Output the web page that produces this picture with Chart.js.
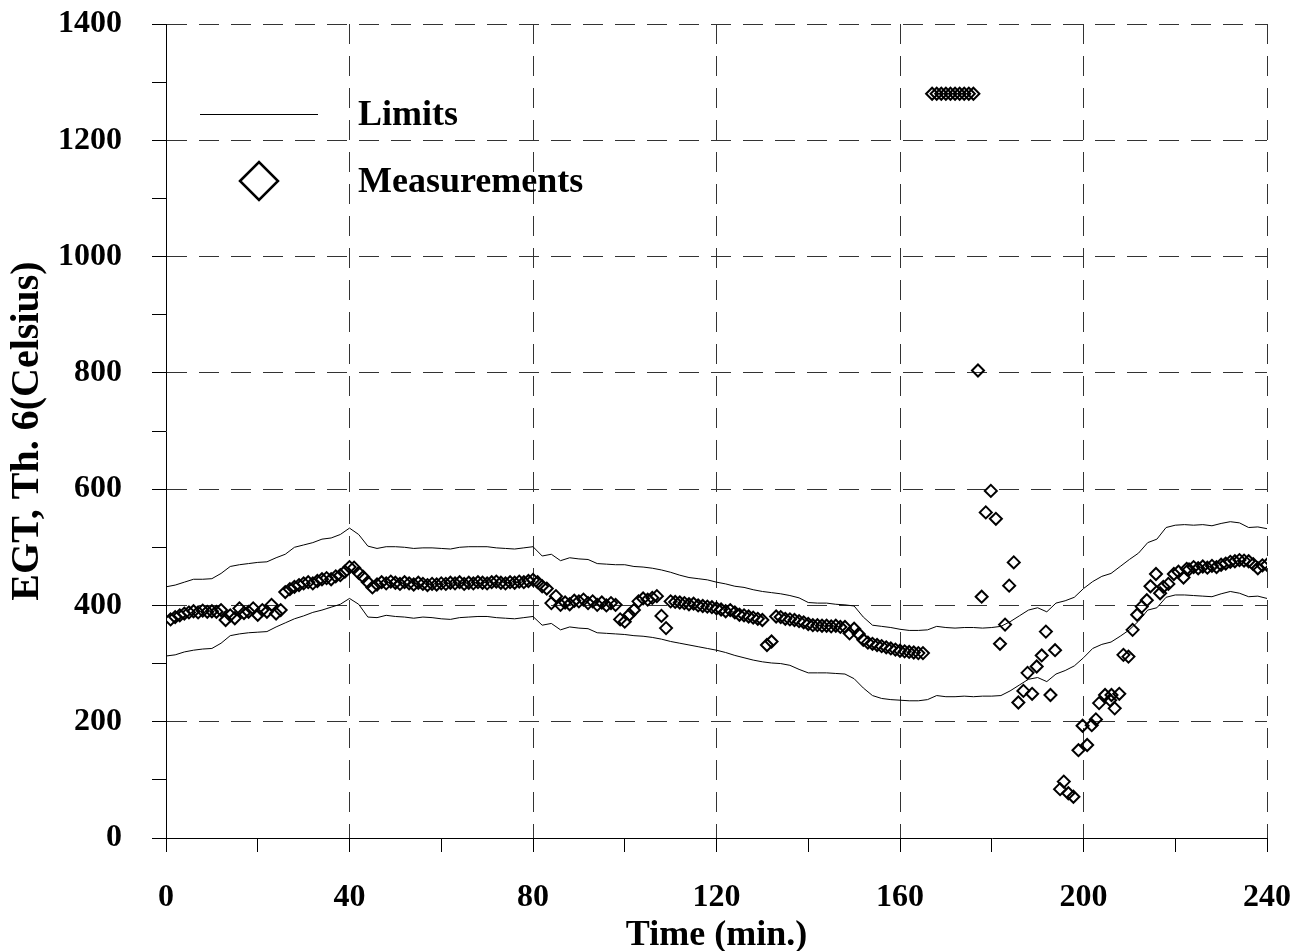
<!DOCTYPE html>
<html>
<head>
<meta charset="utf-8">
<title>EGT Th. 6</title>
<script src="https://cdn.jsdelivr.net/npm/chart.js@4.4.1/dist/chart.umd.min.js"></script>
<style>
  html, body { margin: 0; padding: 0; background: #fff; }
  canvas { display: block; }
</style>
</head>
<body>
<canvas id="egtChart" width="1303" height="951" style="width:1303px;height:951px"></canvas>
<script>
// 上下限 (每 2 分鐘一點)
const limitTime = [
  0, 2, 4, 6, 8, 10, 12, 14, 16, 18,
  20, 22, 24, 26, 28, 30, 32, 34, 36, 38,
  40, 42, 44, 46, 48, 50, 52, 54, 56, 58,
  60, 62, 64, 66, 68, 70, 72, 74, 76, 78,
  80, 82, 84, 86, 88, 90, 92, 94, 96, 98,
  100, 102, 104, 106, 108, 110, 112, 114, 116, 118,
  120, 122, 124, 126, 128, 130, 132, 134, 136, 138,
  140, 142, 144, 146, 148, 150, 152, 154, 156, 158,
  160, 162, 164, 166, 168, 170, 172, 174, 176, 178,
  180, 182, 184, 186, 188, 190, 192, 194, 196, 198,
  200, 202, 204, 206, 208, 210, 212, 214, 216, 218,
  220, 222, 224, 226, 228, 230, 232, 234, 236, 238,
  240
];
const upperLimit = [
  432, 435, 440, 445, 445, 446, 455, 467, 470, 472,
  474, 475, 482, 488, 500, 504, 508, 514, 516, 522,
  533, 522, 502, 498, 501, 501, 500, 498, 499, 499,
  498, 497, 500, 501, 501, 501, 499, 498, 497, 499,
  501, 485, 488, 477, 482, 480, 479, 472, 471, 470,
  470, 467, 466, 464, 461, 457, 452, 448, 446, 444,
  440, 437, 433, 431, 427, 424, 422, 420, 417, 413,
  405, 404, 404, 402, 401, 399, 380, 366, 364, 362,
  359, 357, 357, 358, 364, 362, 361, 362, 362, 361,
  362, 364, 372, 382, 392, 396, 389, 404, 408, 414,
  429, 441, 450, 455, 467, 479, 490, 508, 514, 534,
  538, 539, 538, 539, 537, 541, 544, 542, 534, 535,
  532
];
const lowerLimit = [
  313, 315, 320, 323, 325, 326, 335, 348, 351, 353,
  354, 355, 363, 370, 377, 382, 388, 392, 397, 402,
  412, 402, 380, 379, 383, 381, 380, 378, 380, 379,
  377, 376, 379, 380, 381, 381, 379, 378, 377, 379,
  381, 366, 369, 358, 363, 361, 360, 353, 352, 351,
  350, 348, 347, 345, 342, 338, 335, 332, 329, 326,
  323, 319, 314, 310, 306, 303, 301, 300, 297, 290,
  284, 284, 284, 283, 282, 274, 258, 245, 240, 238,
  237, 236, 236, 238, 245, 243, 243, 244, 243, 244,
  244, 245, 253, 263, 273, 276, 269, 282, 288, 296,
  310, 326, 333, 337, 347, 358, 373, 392, 396, 414,
  418, 418, 417, 416, 415, 420, 424, 421, 415, 416,
  412
];

// 量測值
const measTime = [
  1, 2, 3, 4, 5, 6, 7, 8, 9, 10,
  11, 12, 13, 14, 15, 16, 17, 18, 19, 20,
  21, 22, 23, 24, 25, 26, 27, 28, 29, 30,
  31, 32, 33, 34, 35, 36, 37, 38, 39, 40,
  41, 42, 43, 44, 45, 46, 47, 48, 49, 50,
  51, 52, 53, 54, 55, 56, 57, 58, 59, 60,
  61, 62, 63, 64, 65, 66, 67, 68, 69, 70,
  71, 72, 73, 74, 75, 76, 77, 78, 79, 80,
  81, 82, 83, 84, 85, 86, 87, 88, 89, 90,
  91, 92, 93, 94, 95, 96, 97, 98, 99, 100,
  101, 102, 103, 104, 105, 106, 107, 108, 109, 110,
  111, 112, 113, 114, 115, 116, 117, 118, 119, 120,
  121, 122, 123, 124, 125, 126, 127, 128, 129, 130,
  131, 132, 133, 134, 135, 136, 137, 138, 139, 140,
  141, 142, 143, 144, 145, 146, 147, 148, 149, 150,
  151, 152, 153, 154, 155, 156, 157, 158, 159, 160,
  161, 162, 163, 164, 165,
  167, 168, 169, 170, 171, 172, 173, 174, 175, 176,
  177, 177.8, 178.7, 179.8, 180.9, 181.8, 182.9, 183.8, 184.8, 185.8,
  186.9, 187.8, 188.8, 189.8, 190.9, 191.8, 192.8, 193.8, 194.9, 195.7,
  196.7, 197.8, 198.9, 199.8, 200.8, 201.8, 202.7, 203.4, 204.7, 205.8,
  206.1, 206.8, 207.8, 208.7, 209.8, 210.7, 211.7, 212.7, 213.8, 214.6,
  215.8, 216.7, 217.4, 218.5, 219.7, 220.7, 221.8, 222.5,
  223, 224, 225, 226, 227, 228, 229, 230, 231, 232,
  233, 234, 235, 236, 237, 238, 239, 240
];
const measValue = [
  376, 380, 383, 386, 388, 390, 388, 391, 389, 390,
  389, 392, 375, 383, 378, 395, 387, 389, 395, 384,
  392, 389, 401, 386, 392, 423, 428, 432, 435, 438,
  440, 438, 442, 445, 447, 445, 450, 452, 458, 466,
  465, 456, 449, 440, 431, 436, 440, 438, 441, 439,
  437, 440, 438, 436, 439, 437, 435, 437, 436, 438,
  437, 439, 438, 440, 437, 439, 438, 440, 439, 438,
  440, 441, 439, 438, 440, 439, 441, 440, 442, 444,
  440, 433, 429, 404, 416, 401, 405, 402, 408, 407,
  410, 404, 407, 401, 405, 400, 404, 401, 376, 372,
  384, 392, 407, 412, 410, 413, 416, 382, 361, 407,
  406, 405, 404, 402, 403, 400, 399, 398, 397, 395,
  393, 390, 392, 388, 384, 383, 381, 379, 377, 375,
  332, 338, 381, 380, 377, 376, 375, 373, 371, 368,
  366, 366, 365, 365, 364, 365, 363, 363, 352, 360,
  351, 341, 336, 334, 332, 330, 328, 326, 324, 322,
  321, 320, 319, 318, 318,
  1280, 1280, 1280, 1280, 1280, 1280, 1280, 1280, 1280, 1280,
  804, 415, 560, 597, 549, 334, 367, 434, 474, 233,
  253, 284, 248, 295, 314, 355, 246, 323, 84, 97,
  77, 71, 151, 193, 160, 194, 204, 232, 246, 237,
  246, 223, 248, 315, 312, 358, 384, 398, 409, 433,
  454, 421, 432, 437, 454, 458, 448, 463,
  462, 466, 464, 467, 465, 468, 466, 470, 472, 475,
  476, 478, 477, 476, 471, 464, 469, 470
];

// 座標軸
const xMin = 0, xMax = 240, xMajor = 40, xMinor = 20;
const yMin = 0, yMax = 1400, yMajor = 200, yMinor = 100;
const xTitle = 'Time (min.)';
const yTitle = 'EGT, Th. 6(Celsius)';
const legendLabels = ['Limits', 'Measurements'];

const FONT = 'Liberation Serif, "Times New Roman", serif';
const pts = (xs, ys) => xs.map((x, i) => ({x: x, y: ys[i]}));

// 圖例畫在圖內左上
const innerLegend = {
  id: 'innerLegend',
  afterDatasetsDraw(chart) {
    const {ctx, chartArea} = chart;
    const l = chartArea.left, t = chartArea.top;
    ctx.save();
    ctx.strokeStyle = '#000';
    ctx.lineWidth = 1;
    ctx.beginPath();
    ctx.moveTo(l + 34, t + 90.5);
    ctx.lineTo(l + 152, t + 90.5);
    ctx.stroke();
    // 菱形
    const cx = l + 93, cy = t + 157, r = 19;
    ctx.lineWidth = 2.5;
    ctx.beginPath();
    ctx.moveTo(cx - r, cy);
    ctx.lineTo(cx, cy - r);
    ctx.lineTo(cx + r, cy);
    ctx.lineTo(cx, cy + r);
    ctx.closePath();
    ctx.stroke();
    ctx.fillStyle = '#000';
    ctx.font = 'bold 36px ' + FONT;
    ctx.textBaseline = 'alphabetic';
    ctx.textAlign = 'left';
    ctx.fillText(legendLabels[0], l + 192, t + 101);
    ctx.fillText(legendLabels[1], l + 192, t + 168);
    ctx.restore();
  }
};

const ctx = document.getElementById('egtChart').getContext('2d');
new Chart(ctx, {
  type: 'scatter',
  data: {
    datasets: [
      {
        label: 'Upper limit',
        type: 'line',
        data: pts(limitTime, upperLimit),
        borderColor: '#000',
        borderWidth: 1,
        pointRadius: 0,
        fill: false,
        tension: 0
      },
      {
        label: 'Lower limit',
        type: 'line',
        data: pts(limitTime, lowerLimit),
        borderColor: '#000',
        borderWidth: 1,
        pointRadius: 0,
        fill: false,
        tension: 0
      },
      {
        label: 'Measurements',
        data: pts(measTime, measValue),
        pointStyle: 'rectRot',
        pointRadius: 6,
        borderColor: '#000',
        borderWidth: 2,
        backgroundColor: 'rgba(0,0,0,0)'
      }
    ]
  },
  options: {
    responsive: false,
    animation: false,
    devicePixelRatio: 1,
    layout: { padding: { top: 24, right: 36, left: 0, bottom: 0 } },
    plugins: { legend: { display: false }, tooltip: { enabled: false } },
    scales: {
      x: {
        type: 'linear',
        min: xMin,
        max: xMax,
        afterFit: s => { s.height = 113; s.paddingLeft = 0; s.paddingRight = 0; },
        ticks: {
          stepSize: xMinor,
          autoSkip: false,
          maxRotation: 0,
          padding: 27,
          color: '#000',
          font: { family: FONT, size: 32, weight: 'bold' },
          callback: v => (v % xMajor === 0 ? v : '')
        },
        grid: {
          color: c => (c.tick && c.tick.value % xMajor === 0 ? '#333' : 'rgba(0,0,0,0)'),
          tickColor: '#000',
          tickLength: 14,
          lineWidth: 1
        },
        border: { color: '#000', width: 1, dash: [20, 12] },
        title: {
          display: true,
          text: xTitle,
          color: '#000',
          padding: { top: 0, bottom: 0 },
          font: { family: FONT, size: 36, weight: 'bold', lineHeight: 0.85 }
        }
      },
      y: {
        type: 'linear',
        min: yMin,
        max: yMax,
        afterFit: s => { s.width = 166; s.paddingTop = 0; s.paddingBottom = 0; },
        ticks: {
          stepSize: yMinor,
          autoSkip: false,
          padding: 30,
          color: '#000',
          font: { family: FONT, size: 32, weight: 'bold' },
          callback: v => (v % yMajor === 0 ? v : '')
        },
        grid: {
          color: c => (c.tick && c.tick.value % yMajor === 0 ? '#333' : 'rgba(0,0,0,0)'),
          tickColor: '#000',
          tickLength: 14,
          lineWidth: 1
        },
        border: { color: '#000', width: 1, dash: [20, 12] },
        title: {
          display: true,
          text: yTitle,
          color: '#000',
          padding: { top: 4, bottom: 0 },
          font: { family: FONT, size: 40, weight: 'bold', lineHeight: 1.2 }
        }
      }
    }
  },
  plugins: [innerLegend]
});
</script>
</body>
</html>
